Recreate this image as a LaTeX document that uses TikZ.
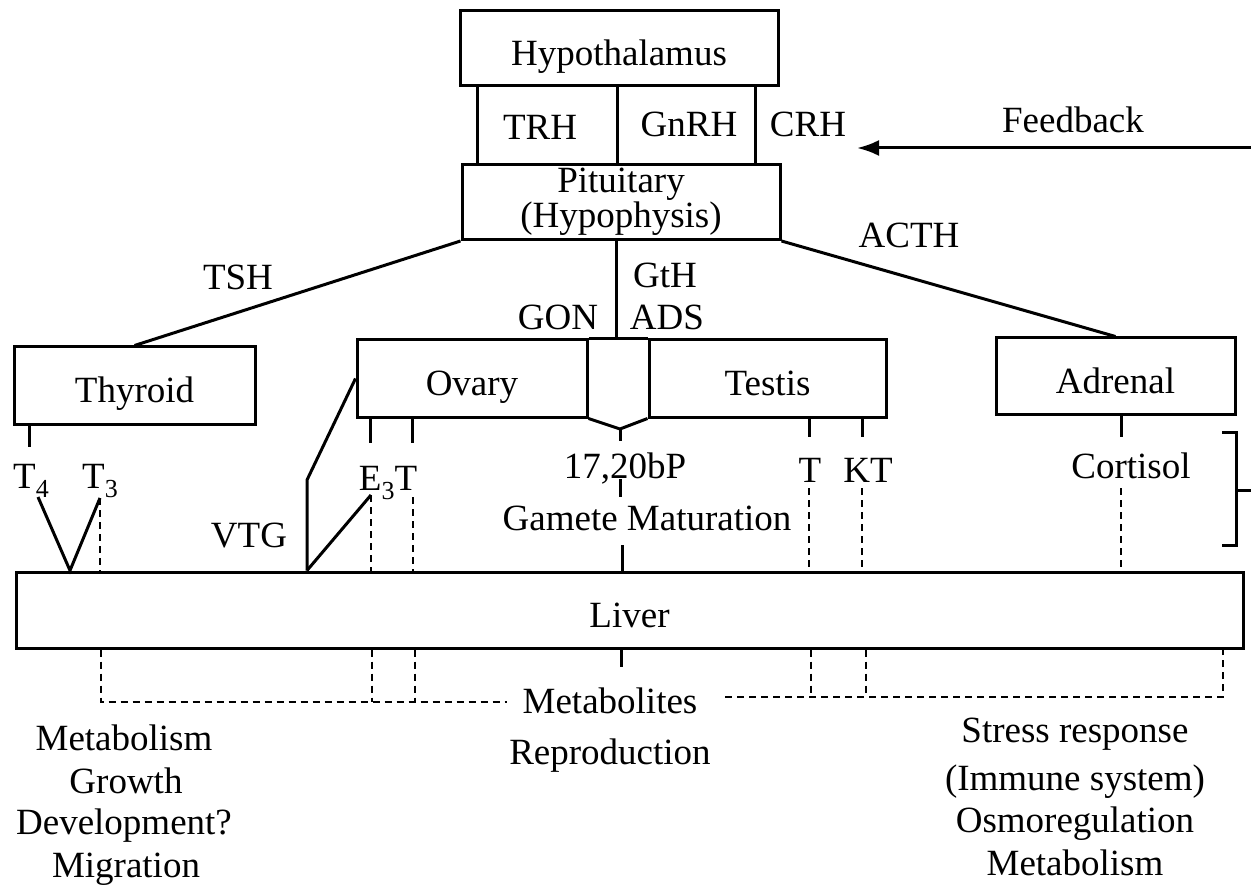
\documentclass[tikz,border=0pt]{standalone}
\usepackage{fontspec}
\setmainfont{Liberation Serif}
\usetikzlibrary{arrows.meta}
\newcommand{\sbs}[1]{\raisebox{-9pt}{\fontsize{26}{26}\selectfont #1}}
\begin{document}
\begin{tikzpicture}[x=1pt,y=-1pt,
  every node/.style={font=\fontsize{37}{43}\selectfont, inner sep=0pt},
  box/.style={draw, line width=3pt},
  tb/.style={text height=34pt, text depth=0pt},
  ln/.style={line width=3pt},
  dsh/.style={line width=2.4pt, dash pattern=on 7pt off 5pt},
  lbl/.style={anchor=base}]
\path[fill=white, use as bounding box] (0,0) rectangle (1251,893);

% boxes
\node[box, tb, minimum width=318pt, minimum height=75pt] (hyp) at (619,48.5) {Hypothalamus};
\node[box, minimum width=318pt, minimum height=75pt, align=center,
      font=\fontsize{37}{31}\selectfont] (pit) at (621,202) {Pituitary\\(Hypophysis)};
\node[box, tb, minimum width=241pt, minimum height=77pt] (thy) at (134.5,385.5) {Thyroid};
\node[box, tb, minimum width=230pt, minimum height=77pt] (ova) at (472,378.5) {Ovary};
\node[box, tb, minimum width=237pt, minimum height=77pt] (tes) at (767.5,378.5) {Testis};
\node[box, tb, minimum width=239pt, minimum height=76pt] (adr) at (1115.5,376) {Adrenal};
\node[box, tb, minimum width=1227pt, minimum height=76pt] (liver) at (629.5,610) {Liver};

% labels
\node[lbl] (trh) at (540,140) {TRH};
\node[lbl] (gnrh) at (689,137) {GnRH};
\node[lbl] (crh) at (808,137) {CRH};
\node[lbl] (fbt) at (1073,133) {Feedback};
\node[lbl] (acth) at (909,248) {ACTH};
\node[lbl] (tsh) at (238,290) {TSH};
\node[lbl] (gth) at (665,288) {GtH};
\node[lbl] (ads) at (667,330) {ADS};
\node[lbl] (gon) at (558,330) {GON};
\node[lbl] (t4) at (31,488) {T\sbs{4}};
\node[lbl] (t3) at (100,488) {T\sbs{3}};
\node[lbl] (vtg) at (249,547) {VTG};
\node[lbl] (e3t) at (388,490) {E\sbs{3}T};
\node[lbl] (bp) at (625,478) {17,20bP};
\node[lbl] (gm) at (647,530) {Gamete Maturation};
\node[lbl] (tt) at (810,482) {T};
\node[lbl] (kt) at (868,482) {KT};
\node[lbl] (cort) at (1131,478) {Cortisol};
\node[lbl] (metab) at (610,713) {Metabolites};
\node[lbl] (repro) at (610,764) {Reproduction};
\node[lbl] (lm1) at (124,750) {Metabolism};
\node[lbl] (lm2) at (126,793) {Growth};
\node[lbl] (lm3) at (124,834) {Development?};
\node[lbl] (lm4) at (126,877) {Migration};
\node[lbl] (rm1) at (1075,742) {Stress response};
\node[lbl] (rm2) at (1075,790) {(Immune system)};
\node[lbl] (rm3) at (1075,832) {Osmoregulation};
\node[lbl] (rm4) at (1075,875) {Metabolism};

% hypothalamus - pituitary
\coordinate (xa) at (477,0);
\coordinate (xb) at (617,0);
\coordinate (xc) at (755,0);
\foreach \c in {xa,xb,xc} \draw[ln] (hyp.south -| \c) -- (pit.north -| \c);

% pituitary outputs
\draw[ln] (pit.south west) -- (thy.north);
\draw[ln] (pit.south east) -- (adr.north);
\coordinate (xg) at (616,0);
\draw[ln] (pit.south -| xg) -- (ova.north -| xg);

% gonad joint
\draw[ln] (ova.north east) -- (tes.north west);
\coordinate (vb) at (620,429);
\coordinate (vs) at (620,441);
\draw[ln] (ova.south east) -- (vb) -- (tes.south west);
\draw[ln] (vb) -- (vs);
\coordinate (bt1) at (620,479);
\coordinate (bt2) at (620,497);
\draw[ln] (bt1) -- (bt2);
\coordinate (gmt) at (622,545);
\draw[ln] (gmt) -- (liver.north -| gmt);

% thyroid
\coordinate (x29) at (29,447);
\draw[ln] (thy.south -| x29) -- (x29);
\coordinate (v4) at (38,497);
\coordinate (vx) at (70,0);
\coordinate (v3) at (100,498);
\draw[ln] (v4) -- (liver.north -| vx) -- (v3);
\draw[dsh] (v3) -- (liver.north -| v3);

% ovary
\coordinate (o1) at (370,443);
\coordinate (o2) at (412,443);
\draw[ln] (ova.south -| o1) -- (o1);
\draw[ln] (ova.south -| o2) -- (o2);
\coordinate (vk) at (307,480);
\draw[ln] (ova.west) -- (vk) -- (liver.north -| vk);
\coordinate (e1) at (371,495);
\coordinate (e2) at (413,497);
\draw[ln] (liver.north -| vk) -- (e1);
\draw[dsh] (e1) -- (liver.north -| e1);
\draw[dsh] (e2) -- (liver.north -| e2);

% testis
\coordinate (s1) at (809,437);
\coordinate (s2) at (862,437);
\draw[ln] (tes.south -| s1) -- (s1);
\draw[ln] (tes.south -| s2) -- (s2);
\coordinate (d1) at (809,488);
\coordinate (d2) at (862,488);
\draw[dsh] (d1) -- (liver.north -| d1);
\draw[dsh] (d2) -- (liver.north -| d2);

% adrenal
\coordinate (a1) at (1121,437);
\coordinate (a2) at (1121,488);
\draw[ln] (adr.south -| a1) -- (a1);
\draw[dsh] (a2) -- (liver.north -| a2);
\coordinate (bk1) at (1222,432);
\coordinate (bk2) at (1236,432);
\coordinate (bk3) at (1236,545);
\coordinate (bk4) at (1222,545);
\coordinate (bkm) at (1236,490);
\coordinate (bkr) at (1251,490);
\draw[ln] (bk1) -- (bk2) -- (bk3) -- (bk4);
\draw[ln] (bkm) -- (bkr);

% feedback
\coordinate (fbR) at (1251,148);
\coordinate (fbL) at (857,148);
\draw[ln, -{Latex[length=22pt,width=16pt]}] (fbR) -- (fbL);

% below liver
\coordinate (lt) at (621,667);
\draw[ln] (liver.south -| lt) -- (lt);
\coordinate (l1) at (101,702);
\coordinate (l2) at (372,702);
\coordinate (l3) at (415,702);
\coordinate (l4) at (507,702);
\draw[dsh] (liver.south -| l1) -- (l1) -- (l4);
\draw[dsh] (liver.south -| l2) -- (l2);
\draw[dsh] (liver.south -| l3) -- (l3);
\coordinate (r0) at (725,697);
\coordinate (r1) at (811,697);
\coordinate (r2) at (866,697);
\coordinate (r3) at (1223,697);
\draw[dsh] (r0) -- (r3) -- (liver.south -| r3);
\draw[dsh] (liver.south -| r1) -- (r1);
\draw[dsh] (liver.south -| r2) -- (r2);
\end{tikzpicture}
\end{document}
